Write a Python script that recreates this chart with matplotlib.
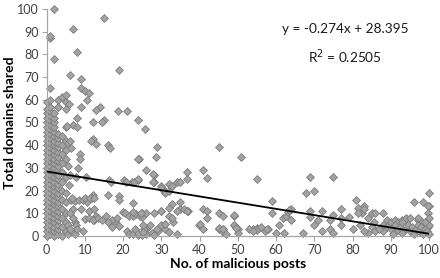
import matplotlib
matplotlib.use("Agg")
import matplotlib.pyplot as plt
import numpy as np

plt.rcParams['font.family'] = ['Lato', 'DejaVu Sans']

# Dense column near x = 0..5 (posts, domains)
col_x0 = [0] * 30
col_y0 = [0, 2, 4, 6, 8, 10, 12, 14, 16, 18, 20, 22, 24, 26, 28, 30, 32, 34, 36, 38, 40, 42, 44, 46, 48, 50, 52, 54, 56, 59]
col_x1 = [1] * 33
col_y1 = [1, 3, 5, 7, 9, 11, 13, 15, 17, 19, 21, 23, 25, 27, 29, 31, 33, 35, 37, 39, 41, 43, 45, 47, 49, 51, 53, 55, 57, 60, 65, 87, 88]
col_x2 = [2] * 30
col_y2 = [0, 2, 4, 6, 8, 10, 12, 14, 16, 18, 20, 22, 24, 26, 28, 30, 32, 34, 36, 38, 40, 42, 44, 46, 48, 50, 52, 54, 78, 100]
col_x3 = [3] * 25
col_y3 = [1, 3, 5, 7, 9, 11, 13, 15, 17, 19, 21, 23, 25, 27, 29, 31, 33, 35, 37, 39, 41, 43, 45, 57, 60]
col_x4 = [4] * 13
col_y4 = [0, 4, 8, 12, 16, 20, 24, 28, 32, 36, 40, 44, 61]
col_x5 = [5] * 13
col_y5 = [2, 6, 10, 15, 19, 26, 34, 38, 42, 48, 56, 59, 62]

# Scattered points (posts, domains)
sparse_posts = [
    15, 7, 8, 19, 6, 9, 9, 10, 11, 10.6, 9, 14, 13, 15, 14.4, 18.7, 20.9, 24, 25.8, 8, 7, 8, 5.2, 12,
    5.8, 3.1, 12, 11.7, 12.9, 16, 8.7, 8.7, 5.6, 8.3,
    5.7, 6.1, 6.5, 16.5, 24.2, 26, 5.9, 7.6, 10.3, 6, 16.3, 20.3, 22.2, 23.8, 16, 18.9, 18.9, 12, 11.9,
    6.5, 7.5, 8.5, 9.5, 10.5, 7, 9, 11, 12.5, 13, 12.3, 7.5, 7.8, 10, 11, 12, 13.5, 14.5, 15.5, 17, 18, 19,
    20, 20.5, 21.5, 22.5, 23.5, 24.5, 25, 21, 21.5, 22.5, 24, 25, 26, 26, 5.5, 6.5, 7.5, 8, 9.5,
    6.6, 10, 11.3, 12.5, 6, 7, 5.5, 6,
    23.9, 28, 28, 28.7, 16.8, 20.7, 22.9, 23.9, 30, 31, 32, 34, 22.6, 22.6, 24.9, 26, 28, 30, 27, 25.5,
    29, 27.5, 24, 23, 28, 17, 18.5, 16, 31, 33, 34, 35, 36, 35,
    45, 28.9, 50.9, 27.8, 27.8, 36.8, 36.8, 35, 40.9, 42, 55, 29.8, 30.9, 31.9, 32.9, 32.9, 31.9, 34, 37,
    29.8, 24.8, 31.9, 32.9, 40.9, 42, 42, 45, 46, 49, 59, 59, 61.8, 62.7, 63,
    25.2, 25.2, 28.9, 29.8, 30.9, 31.9, 39.8, 40.9, 45, 46.1, 46.1, 49, 50, 50, 53.9, 55, 55, 57, 57.8,
    59.9, 60.9, 62, 47,
    68.9, 75, 67.9, 69.9, 100, 98.5, 99.9, 81, 72, 77, 64, 64, 68.9, 68.9, 74.8, 77, 77, 79, 81.5, 82.5,
    83, 84, 85, 85.5, 86, 88, 89, 90, 91, 92, 93, 94, 96, 97, 98, 99, 99.8, 70, 71, 72, 74, 74, 75, 67, 84,
    99.8, 99.8, 83, 81.4, 88,
    88, 89, 90, 90.5, 91, 92, 92.5, 93, 94, 94.5, 95, 95.5, 96, 96.5, 97, 97.5, 98, 98.5, 99, 99.5, 100,
    100, 100, 99, 97, 95, 93, 80, 82, 83, 85, 86, 87,
    45, 46, 48.9, 40, 48.9, 49.6, 53, 54, 56, 57.7, 63.5, 36.7,
]
sparse_domains = [
    96, 91, 81, 73, 71, 69, 65, 64, 63, 60, 57, 57, 55.5, 51, 50, 55, 55, 51, 47, 52, 49, 48, 48.5, 42.6,
    58, 57, 50, 42, 40.4, 40, 36, 34, 31, 29.8,
    40.8, 42, 38.6, 38.6, 34, 29, 22.5, 26, 26, 27, 24.7, 24.7, 24, 24.7, 18, 17.7, 15.9, 18, 16.6,
    16, 15.5, 16, 16, 15, 12, 12, 11, 12, 9, 7, 6, 5, 7.5, 8, 7, 8, 7, 9, 4, 6.5, 4.5,
    10.5, 10, 9, 9, 9.5, 9, 8.5, 2, 1, 1, 0.5, 0.5, 3, 1, 1, 2, 1, 3, 2,
    16.7, 16.7, 16.7, 16.7, 10, 8, 5, 3,
    33.8, 27, 24, 35, 24, 24, 24, 25, 22, 20, 23, 24, 14.7, 10.7, 10.3, 10.3, 10.3, 11, 5, 3,
    2, 1.5, 1.5, 3, 0.5, 7, 8, 6, 3, 6, 1, 12, 12, 15,
    39, 39, 35, 27.3, 24, 28, 25, 24, 29, 25.7, 25, 21, 19, 20, 22, 14, 12.5, 11, 11,
    11, 10, 9, 7.8, 12, 11, 7.8, 10, 8.8, 8.8, 15.5, 10, 7.8, 9, 10.7,
    4.8, 1.9, 3, 4.8, 5.5, 1.9, 4.8, 3, 3, 3, 1.9, 4.8, 3, 1.2, 3, 3.5, 2.5, 2, 3,
    1.2, 4.8, 1.2, 1,
    25.8, 25.8, 19, 19.8, 19, 15, 13, 16, 11, 12, 12, 7, 11, 8.2, 9.2, 8, 4.8, 8.2, 12.5, 10,
    13, 8, 10, 6, 10, 4.8, 7, 6, 7, 6, 7, 7.8, 15, 7, 6.5, 5, 4, 5, 7, 2, 7, 3, 1.2, 1.2, 1.2,
    13.2, 10, 11.8, 10, 10,
    2, 4, 3, 1, 5, 2.5, 4, 1.5, 3, 5, 2, 4, 1, 3, 5, 2, 4, 1, 3, 2, 1,
    5, 8, 6, 8, 8, 6, 3, 5, 2, 4, 2, 3,
    3.5, 3, 9.2, 5.3, 4.8, 3.4, 3, 2, 4, 3, 11.5, 11,
]

# Trendline as labelled on the chart
slope = -0.274
intercept = 28.395
r_squared = 0.2505

x_ticks = [0, 10, 20, 30, 40, 50, 60, 70, 80, 90, 100]
y_ticks = [0, 10, 20, 30, 40, 50, 60, 70, 80, 90, 100]

posts = np.array(col_x0 + col_x1 + col_x2 + col_x3 + col_x4 + col_x5 + sparse_posts, dtype=float)
domains = np.array(col_y0 + col_y1 + col_y2 + col_y3 + col_y4 + col_y5 + sparse_domains, dtype=float)

fig = plt.figure(figsize=(4.4, 2.78), dpi=100)
ax = fig.add_axes([0.106, 0.151, 0.869, 0.817])

ax.scatter(posts, domains, marker='D', s=16, facecolor='#a3a3a3', edgecolor='#7d7d7d',
           linewidths=0.6, clip_on=False, zorder=2)

xl = np.array([0, 100])
ax.plot(xl, slope * xl + intercept, color='black', lw=1.3, zorder=3)

ax.set_xlim(0, 100)
ax.set_ylim(0, 100)
ax.set_xticks(x_ticks)
ax.set_yticks(y_ticks)
ax.tick_params(axis='both', labelsize=9, colors='#404040', length=3.5, width=0.8, pad=2)
ax.tick_params(axis='both', color='#a6a6a6')
for s in ['top', 'right']:
    ax.spines[s].set_visible(False)
for s in ['left', 'bottom']:
    ax.spines[s].set_color('#a6a6a6')
    ax.spines[s].set_linewidth(0.9)

ax.set_xlabel('No. of malicious posts', fontsize=10, fontweight='bold', labelpad=2)
ax.set_ylabel('Total domains shared', fontsize=10, fontweight='bold', labelpad=1)

ax.text(78, 91.2, f'y = {slope}x + {intercept}', fontsize=9.8, ha='center', va='center', color='#1a1a1a')
ax.text(78, 79, f'R$^2$ = {r_squared}', fontsize=9.8, ha='center', va='center', color='#1a1a1a')

fig.savefig('out.png', dpi=100)
